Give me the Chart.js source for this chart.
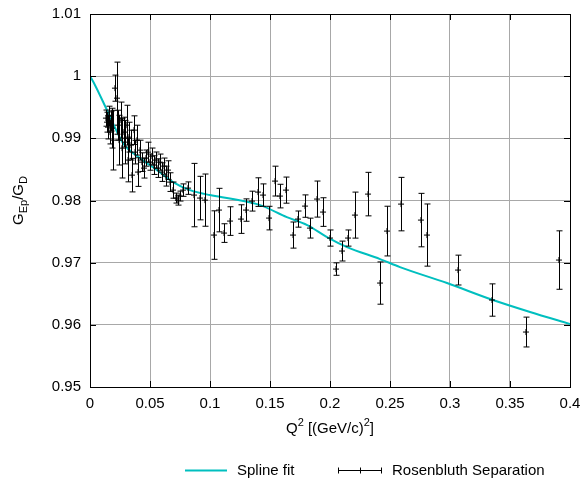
<!DOCTYPE html>
<html>
<head>
<meta charset="utf-8">
<script src="https://cdn.jsdelivr.net/npm/chart.js@4/dist/chart.umd.min.js"></script>
<style>
  body { margin: 0; background: #fff; }
</style>
</head>
<body>
<canvas id="gepChart" width="584" height="480"></canvas>
<script>
// Rosenbluth separation points: Q^2, G_Ep/G_D and error
var q2 = [0.0133, 0.0142, 0.015, 0.0158, 0.0167, 0.0175, 0.0183, 0.0192, 0.0208, 0.0225,
  0.0233, 0.0242, 0.0258, 0.0267, 0.0283, 0.0292, 0.0308, 0.0317, 0.0325, 0.0342,
  0.035, 0.0367, 0.0375, 0.0392, 0.04, 0.0417, 0.0433, 0.045, 0.0467, 0.0483,
  0.05, 0.0517, 0.0533, 0.055, 0.0567, 0.0583, 0.06, 0.0617, 0.0633, 0.065,
  0.0667, 0.0692, 0.0717, 0.0733, 0.075, 0.0775, 0.0817, 0.0867, 0.0917, 0.0958,
  0.1033, 0.1075, 0.1117, 0.1167, 0.1258, 0.13, 0.135, 0.14, 0.1442, 0.1492,
  0.1542, 0.1583, 0.1633, 0.1692, 0.1733, 0.1792, 0.1833, 0.1892, 0.1942, 0.2,
  0.205, 0.21, 0.215, 0.2208, 0.2317, 0.2417, 0.2475, 0.2592, 0.2758, 0.2808,
  0.3067, 0.335, 0.3633, 0.3908];
var gep = [0.99325, 0.9926, 0.9918, 0.99357, 0.991, 0.99277, 0.99164, 0.98971, 0.99807, 0.99646,
  0.99212, 0.98971, 0.99293, 0.98842, 0.991, 0.98939, 0.99212, 0.9865, 0.99019, 0.98891,
  0.98408, 0.99132, 0.98778, 0.98971, 0.98457, 0.9881, 0.98617, 0.98521, 0.98682, 0.98778,
  0.98617, 0.98714, 0.98569, 0.9865, 0.98521, 0.98617, 0.98457, 0.98553, 0.98392, 0.98489,
  0.98296, 0.98167, 0.98039, 0.98006, 0.98071, 0.98167, 0.98199, 0.98087, 0.98039, 0.98006,
  0.97444, 0.97846, 0.97476, 0.97669, 0.97701, 0.97846, 0.9799, 0.98135, 0.98087, 0.97717,
  0.98312, 0.98071, 0.98167, 0.97444, 0.97701, 0.9791, 0.97556, 0.98023, 0.97814, 0.97396,
  0.96897, 0.97187, 0.97396, 0.97765, 0.98103, 0.96672, 0.97508, 0.97942, 0.97685, 0.97444,
  0.96881, 0.96399, 0.95884, 0.97042];
var gepErr = [0.0013, 0.0016, 0.0019, 0.0016, 0.0019, 0.0016, 0.0032, 0.0048, 0.0021, 0.0058,
  0.0024, 0.004, 0.0029, 0.0048, 0.0024, 0.0035, 0.0032, 0.0035, 0.0024, 0.0024,
  0.0027, 0.0023, 0.0019, 0.0024, 0.0023, 0.0016, 0.0015, 0.0016, 0.0013, 0.0016,
  0.0013, 0.0013, 0.0015, 0.0013, 0.0015, 0.0013, 0.0015, 0.0013, 0.0016, 0.0015,
  0.0015, 0.0013, 0.0008, 0.0008, 0.0008, 0.001, 0.001, 0.0051, 0.0035, 0.0042,
  0.0039, 0.0035, 0.0015, 0.0023, 0.0023, 0.0018, 0.0016, 0.0023, 0.0018, 0.0019,
  0.0024, 0.0019, 0.0021, 0.0021, 0.0013, 0.0018, 0.0016, 0.0029, 0.0023, 0.0013,
  0.001, 0.0016, 0.0013, 0.0037, 0.0035, 0.0034, 0.004, 0.0043, 0.0043, 0.005,
  0.0024, 0.0026, 0.0024, 0.0047];

// spline fit
var splineQ2 = [0, 0.0042, 0.0142, 0.0275, 0.0417, 0.0558, 0.0692, 0.0833, 0.1, 0.119,
  0.1417, 0.164, 0.181, 0.1975, 0.2142, 0.2417, 0.2583, 0.2975, 0.3358, 0.3667, 0.4];
var splineG = [1.0, 0.99855, 0.99453, 0.98923, 0.98682, 0.98489, 0.98296, 0.98167, 0.98087, 0.98023,
  0.97926, 0.97733, 0.97605, 0.97412, 0.97251, 0.97058, 0.96929, 0.96672, 0.96399, 0.96206, 0.96013];

var FONT = "'Liberation Sans', Arial, sans-serif";
var SPLINE_COLOR = '#00bfbf';

Chart.defaults.font.family = FONT;
Chart.defaults.font.size = 15;
Chart.defaults.color = '#000';

function fmt(v) { return String(+v.toFixed(2)); }

// vertical error bars with caps
var errorBars = {
  id: 'errorBars',
  afterDatasetsDraw: function (chart) {
    var ctx = chart.ctx, x = chart.scales.x, y = chart.scales.y;
    ctx.save();
    ctx.strokeStyle = '#000';
    ctx.lineWidth = 1;
    ctx.beginPath();
    for (var i = 0; i < q2.length; i++) {
      var px = Math.round(x.getPixelForValue(q2[i])) + 0.5;
      var top = y.getPixelForValue(gep[i] + gepErr[i]);
      var bot = y.getPixelForValue(gep[i] - gepErr[i]);
      ctx.moveTo(px, top); ctx.lineTo(px, bot);
      ctx.moveTo(px - 3, top); ctx.lineTo(px + 3, top);
      ctx.moveTo(px - 3, bot); ctx.lineTo(px + 3, bot);
    }
    ctx.stroke();
    ctx.restore();
  }
};

// text with sub/superscripts
function drawSub(ctx, parts, x, y) {
  var total = 0;
  parts.forEach(function (p) {
    ctx.font = (p.small ? 11 : 15) + 'px ' + FONT;
    p.w = ctx.measureText(p.t).width;
    total += p.w;
  });
  var cx = x - total / 2;
  parts.forEach(function (p) {
    ctx.font = (p.small ? 11 : 15) + 'px ' + FONT;
    ctx.fillText(p.t, cx, y + (p.dy || 0));
    cx += p.w;
  });
}

// frame, inward ticks, axis titles and key
var frame = {
  id: 'frame',
  afterDraw: function (chart) {
    var ctx = chart.ctx, a = chart.chartArea, x = chart.scales.x, y = chart.scales.y;
    ctx.save();
    ctx.strokeStyle = '#000';
    ctx.lineWidth = 1;
    ctx.beginPath();
    x.ticks.forEach(function (t) {
      var px = Math.round(x.getPixelForValue(t.value)) + 0.5;
      ctx.moveTo(px, a.bottom); ctx.lineTo(px, a.bottom - 6);
      ctx.moveTo(px, a.top); ctx.lineTo(px, a.top + 6);
    });
    y.ticks.forEach(function (t) {
      var py = Math.round(y.getPixelForValue(t.value)) + 0.5;
      ctx.moveTo(a.left, py); ctx.lineTo(a.left + 6, py);
      ctx.moveTo(a.right, py); ctx.lineTo(a.right - 6, py);
    });
    ctx.stroke();
    ctx.strokeRect(Math.round(a.left) + 0.5, Math.round(a.top) + 0.5,
      Math.round(a.right - a.left), Math.round(a.bottom - a.top));

    ctx.fillStyle = '#000';
    ctx.textBaseline = 'middle';
    ctx.textAlign = 'left';
    // x title
    drawSub(ctx, [{ t: 'Q' }, { t: '2', small: true, dy: -6 }, { t: ' [(GeV/c)' },
      { t: '2', small: true, dy: -6 }, { t: ']' }], (a.left + a.right) / 2, 429);
    // y title
    ctx.save();
    ctx.translate(19, (a.top + a.bottom) / 2);
    ctx.rotate(-Math.PI / 2);
    drawSub(ctx, [{ t: 'G' }, { t: 'Ep', small: true, dy: 5 }, { t: '/G' },
      { t: 'D', small: true, dy: 5 }], 0, 0);
    ctx.restore();

    // key
    var ky = 470.5;
    ctx.font = '15px ' + FONT;
    ctx.strokeStyle = SPLINE_COLOR;
    ctx.lineWidth = 2;
    ctx.beginPath();
    ctx.moveTo(185, ky); ctx.lineTo(227, ky);
    ctx.stroke();
    ctx.fillText('Spline fit', 237, ky);
    ctx.strokeStyle = '#000';
    ctx.lineWidth = 1;
    ctx.beginPath();
    ctx.moveTo(338, ky); ctx.lineTo(382, ky);
    ctx.moveTo(338.5, ky - 3); ctx.lineTo(338.5, ky + 3);
    ctx.moveTo(381.5, ky - 3); ctx.lineTo(381.5, ky + 3);
    ctx.moveTo(360.5, ky - 3); ctx.lineTo(360.5, ky + 3);
    ctx.stroke();
    ctx.fillText('Rosenbluth Separation', 392, ky);
    ctx.restore();
  }
};

new Chart(document.getElementById('gepChart'), {
  type: 'scatter',
  data: {
    datasets: [{
      label: 'Spline fit',
      type: 'line',
      data: splineQ2.map(function (q, i) { return { x: q, y: splineG[i] }; }),
      borderColor: SPLINE_COLOR,
      borderWidth: 2,
      pointRadius: 0,
      fill: false,
      cubicInterpolationMode: 'monotone',
      order: 2
    }, {
      label: 'Rosenbluth Separation',
      data: q2.map(function (q, i) { return { x: q, y: gep[i] }; }),
      pointStyle: 'cross',
      pointRadius: 3,
      borderColor: '#000',
      backgroundColor: '#000',
      borderWidth: 1,
      order: 1
    }]
  },
  options: {
    responsive: false,
    animation: false,
    layout: { padding: { left: 0, right: 14, top: 14, bottom: 0 } },
    plugins: { legend: { display: false }, tooltip: { enabled: false } },
    scales: {
      x: {
        type: 'linear',
        min: 0,
        max: 0.4,
        afterFit: function (s) { s.height = 93; s.paddingLeft = 0; s.paddingRight = 0; },
        ticks: { stepSize: 0.05, padding: 8, maxRotation: 0, callback: fmt },
        grid: { color: '#a8a8a8', drawTicks: false },
        border: { display: false }
      },
      y: {
        min: 0.95,
        max: 1.01,
        afterFit: function (s) { s.width = 90; s.paddingTop = 0; s.paddingBottom = 0; },
        ticks: { stepSize: 0.01, padding: 9, callback: fmt },
        grid: { color: '#a8a8a8', drawTicks: false },
        border: { display: false }
      }
    }
  },
  plugins: [errorBars, frame]
});
</script>
</body>
</html>
